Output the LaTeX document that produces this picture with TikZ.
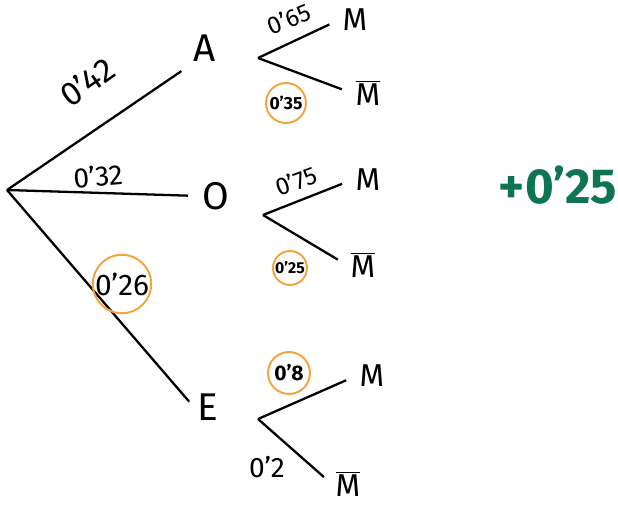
\documentclass[tikz,border=0pt]{standalone}
\usepackage{fontspec}
\setmainfont{Fira Sans}
\usepackage{tikz}
\usetikzlibrary{positioning}
\definecolor{ring}{HTML}{F4A43A}
\definecolor{gain}{HTML}{0E7550}
\newcommand{\notM}{\(\overline{\mbox{M}}\)}

\begin{document}
\begin{tikzpicture}[x=0.02cm, y=-0.02cm,
  branch/.style={line width=1.3pt, shorten >=6pt},
  event/.style={font=\fontsize{22}{22}\selectfont, inner sep=2pt},
  outcome/.style={font=\fontsize{18}{18}\selectfont, inner sep=2pt},
  prob/.style={font=\fontsize{14}{14}\selectfont, inner sep=1pt},
  marked/.style={draw=ring, circle, line width=1.1pt, inner sep=0pt}
]
  \useasboundingbox (0,0) rectangle (618,504);

  % first level
  \coordinate (root) at (7,190);
  \node[event] (A) at (205,48) {A};
  \node[event] (O) at (216,196) {O};
  \node[event] (E) at (208,407) {E};

  \draw[branch] (root) -- (A.south west);
  \draw[branch] (root) -- (O.west);
  \draw[branch, shorten >=4pt] (root) -- (E.west);

  \node[prob, rotate=35, font=\fontsize{19}{19}\selectfont] (p42) at (87,82) {0'42};
  \node[prob, rotate=5, font=\fontsize{16}{16}\selectfont] (p32) at (98,176) {0'32};
  \node[marked, minimum size=1.16cm, font=\fontsize{17}{17}\selectfont] (p26) at (122,284) {0'26};

  % second level
  \coordinate (fA) at (258,58);
  \coordinate (fO) at (263,215);
  \coordinate (fE) at (258,419);

  \node[outcome] (MA) at (355,20) {M};
  \node[outcome] (NA) at (368,93) {\notM};
  \node[outcome] (MO) at (368,180) {M};
  \node[outcome] (NO) at (363,265) {\notM};
  \node[outcome] (ME) at (372,376) {M};
  \node[outcome] (NE) at (348,484) {\notM};

  \draw[branch] (fA) -- (MA.west);
  \draw[branch] (fA) -- (NA.west);
  \draw[branch] (fO) -- (MO.west);
  \draw[branch] (fO) -- (NO.west);
  \draw[branch] (fE) -- (ME.west);
  \draw[branch] (fE) -- (NE.west);

  \node[prob, rotate=22] (p65) at (289,19) {0'65};
  \node[marked, minimum size=0.8cm, font=\fontsize{10}{10}\selectfont\bfseries] (p35) at (286,103) {0'35};
  \node[prob, rotate=20] (p75) at (296,181) {0'75};
  \node[marked, minimum size=0.68cm, font=\fontsize{9}{9}\selectfont\bfseries] (p25) at (290,268) {0'25};
  \node[marked, minimum size=0.84cm, font=\fontsize{12}{12}\selectfont\bfseries] (p8) at (289,373) {0'8};
  \node[prob, font=\fontsize{16}{16}\selectfont] (p2) at (267,467) {0'2};

  \node[text=gain, font=\fontsize{28}{28}\selectfont\bfseries] (gain) at (558,185) {+0'25};
\end{tikzpicture}
\end{document}
